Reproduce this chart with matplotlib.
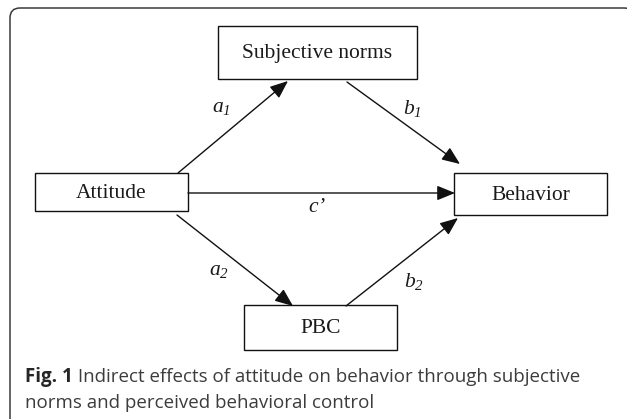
import matplotlib
matplotlib.use("Agg")
import matplotlib.pyplot as plt
import matplotlib.transforms as mtrans
from matplotlib.patches import FancyBboxPatch, Rectangle

plt.rcParams['mathtext.fontset'] = 'custom'
plt.rcParams['mathtext.rm'] = 'Liberation Serif:italic'
plt.rcParams['mathtext.it'] = 'Liberation Serif:italic'

# ---- diagram content ----
nodes = ["Subjective norms", "Attitude", "Behavior", "PBC"]
path_labels = [r"$a_1$", r"$b_1$", r"$c$’", r"$a_2$", r"$b_2$"]
caption_bold = "Fig. 1"
caption_rest = " Indirect effects of attitude on behavior through subjective"
caption_line2 = "norms and perceived behavioral control"

W, H = 627, 419
fig = plt.figure(figsize=(W / 100, H / 100), dpi=100)
ax = fig.add_axes([0, 0, 1, 1])
ax.set_xlim(0, W)
ax.set_ylim(H, 0)
ax.axis("off")

# outer rounded frame (open at bottom, right side clipped)
frame = FancyBboxPatch((10, 8), 624, 440, boxstyle="round,pad=0,rounding_size=10",
                       fill=False, edgecolor="#3a3a3a", linewidth=1.1)
ax.add_patch(frame)

# boxes: (x0, y0, x1, y1)
boxes = {
    "Subjective norms": (218, 26, 417, 79),
    "Attitude": (35, 173, 188, 211),
    "Behavior": (454, 173, 607, 215),
    "PBC": (244, 305, 397, 350),
}
serif = "Liberation Serif"
for name in nodes:
    x0, y0, x1, y1 = boxes[name]
    ax.add_patch(Rectangle((x0, y0), x1 - x0, y1 - y0, fill=False,
                           edgecolor="#111111", linewidth=1.0))
    ax.text((x0 + x1) / 2, (y0 + y1) / 2 + 1, name, family=serif, fontsize=15.5,
            ha="center", va="center", color="#1a1a1a")

# arrows: (start, end)
arrows = [
    ((178, 173), (288, 81)),
    ((347, 82), (460, 164)),
    ((188, 193), (455, 193)),
    ((177, 215), (293, 306)),
    ((346, 306), (458, 218)),
]
for (s, e) in arrows:
    ax.annotate("", xy=e, xytext=s,
                arrowprops=dict(arrowstyle="-|>,head_length=1.1,head_width=0.45",
                                color="#111111", lw=1.0, shrinkA=0, shrinkB=0))

label_pos = [(221, 107), (412, 108), (317, 207), (219, 270), (414, 281)]
for lab, (x, y) in zip(path_labels, label_pos):
    ax.text(x, y, lab, fontsize=15.5, family=serif, style="italic",
            ha="center", va="center", color="#1a1a1a")

# caption
cap_font = "Open Sans"
cap_size = 13.5
t = ax.text(25, 377, caption_bold, family=cap_font, fontweight="bold", fontsize=cap_size,
            ha="left", va="center", color="#262626")
fig.canvas.draw()
bb = t.get_window_extent()
ax.text(bb.x1, 377, caption_rest, family=cap_font, fontsize=cap_size,
        ha="left", va="center", color="#3c3c3c",
        transform=mtrans.blended_transform_factory(mtrans.IdentityTransform(), ax.transData))
ax.text(25, 403, caption_line2, family=cap_font, fontsize=cap_size,
        ha="left", va="center", color="#3c3c3c")

fig.savefig("out.png", dpi=100)
